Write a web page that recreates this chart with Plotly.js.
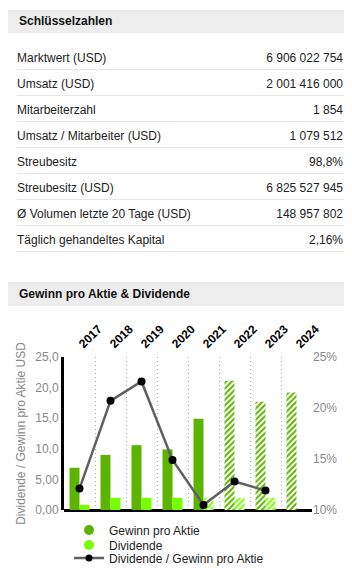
<!DOCTYPE html>
<html>
<head>
<meta charset="utf-8">
<script src="https://cdn.plot.ly/plotly-3.0.1.min.js"></script>
<style>
html,body{margin:0;padding:0;background:#fff;}
body{width:352px;height:568px;position:relative;overflow:hidden;font-family:"Liberation Sans",Arial,sans-serif;font-size:12px;color:#222;}
.hdr{position:absolute;left:8px;width:336px;height:23px;background:#ededed;font-weight:bold;line-height:23px;color:#111;}
.hdr span{position:absolute;left:11px;}
.lab{position:absolute;left:17px;height:16px;line-height:16px;}
.val{position:absolute;right:9px;height:16px;line-height:16px;text-align:right;}
.sep{position:absolute;left:17px;width:327px;height:1px;background:#e6e6e6;}
#chart{position:absolute;left:0;top:306px;width:352px;height:320px;}
</style>
</head>
<body>
<div class="hdr" style="top:10px"><span>Schlüsselzahlen</span></div>
<div id="table"></div>
<div class="hdr" style="top:282px;height:24px;line-height:24px"><span>Gewinn pro Aktie &amp; Dividende</span></div>
<div id="chart"></div>
<script>
// ---- Key figures ----
const tableLabels = ["Marktwert (USD)", "Umsatz (USD)", "Mitarbeiterzahl", "Umsatz / Mitarbeiter (USD)", "Streubesitz", "Streubesitz (USD)", "Ø Volumen letzte 20 Tage (USD)", "Täglich gehandeltes Kapital"];
const tableValues = ["6 906 022 754", "2 001 416 000", "1 854", "1 079 512", "98,8%", "6 825 527 945", "148 957 802", "2,16%"];

// ---- Chart data ----
const years = ["2017", "2018", "2019", "2020", "2021", "2022", "2023", "2024"];
const gewinn = [6.9, 9.0, 10.6, 9.9, 14.9, 21.1, 17.7, 19.2];
const dividende = [0.85, 2.0, 2.0, 2.0, 2.0, 2.0, 2.0, null];
const ausschuettung = [12.1, 20.7, 22.6, 14.9, 10.5, 12.8, 11.9, null];
const gewinnPattern = ["", "", "", "", "", "/", "/", "/"];
const dividendePattern = ["", "", "", "", "/", "/", "/", ""];
const leftTickVals = [0, 5, 10, 15, 20, 25];
const leftTickText = ["0,00", "5,00", "10,0", "15,0", "20,0", "25,0"];
const rightTickVals = [10, 15, 20, 25];
const rightTickText = ["10%", "15%", "20%", "25%"];

const tbl = document.getElementById('table');
tableLabels.forEach((l, i) => {
  const top = 50 + 26 * i;
  tbl.insertAdjacentHTML('beforeend',
    `<div class="lab" style="top:${top}px">${l}</div>` +
    `<div class="val" style="top:${top}px">${tableValues[i]}</div>` +
    `<div class="sep" style="top:${69 + 26 * i}px"></div>`);
});

const cG = '#5db400', cD = '#77ff00';
const fam = '"Liberation Sans", Arial, sans-serif';
const font = {family: fam, size: 12, color: '#222'};

const traces = [
  {type: 'bar', x: years, y: gewinn, name: 'Gewinn pro Aktie', showlegend: false,
   marker: {color: cG, line: {width: 0}, pattern: {shape: gewinnPattern, bgcolor: '#ffffff', fgcolor: cG, size: 4, solidity: 0.5}},
   hoverinfo: 'skip'},
  {type: 'bar', x: years, y: dividende, name: 'Dividende', showlegend: false,
   marker: {color: cD, line: {width: 0}, pattern: {shape: dividendePattern, bgcolor: '#ffffff', fgcolor: cD, size: 4, solidity: 0.5}},
   hoverinfo: 'skip'},
  {type: 'scatter', mode: 'lines+markers', x: years, y: ausschuettung, yaxis: 'y2', name: 'Dividende / Gewinn pro Aktie',
   line: {color: '#606060', width: 2.5}, marker: {color: '#000', size: 8}, showlegend: false, connectgaps: false},
  // legend entries
  {type: 'scatter', mode: 'markers', x: [null], y: [null], name: 'Gewinn pro Aktie', marker: {color: cG, size: 10, symbol: 'circle'}, legend: 'legend'},
  {type: 'scatter', mode: 'markers', x: [null], y: [null], name: 'Dividende', marker: {color: cD, size: 10, symbol: 'circle'}, legend: 'legend2'},
  {type: 'scatter', mode: 'lines+markers', x: [null], y: [null], name: 'Dividende / Gewinn pro Aktie', line: {color: '#606060', width: 2.5}, marker: {color: '#000', size: 7}, legend: 'legend3'}
];

const legBase = {orientation: 'v', xanchor: 'left', yanchor: 'middle', bgcolor: 'rgba(0,0,0,0)', borderwidth: 0, font: font, x: 5 / 248};

const layout = {
  width: 352, height: 320,
  margin: {l: 64, r: 40, t: 51, b: 116, pad: 0},
  paper_bgcolor: 'rgba(0,0,0,0)', plot_bgcolor: 'rgba(0,0,0,0)',
  font: font,
  separators: ', ',
  barmode: 'group', bargap: 0.355, bargroupgap: 0,
  xaxis: {type: 'category', categoryorder: 'array', categoryarray: years, side: 'top',
    tickangle: -45, tickfont: {family: fam, size: 12, color: '#000', weight: 'bold'}, ticklabelstandoff: 3,
    showline: false, ticks: '', tickson: 'boundaries', showgrid: true, gridcolor: '#b0b0b0', griddash: '1px,3px', gridwidth: 1,
    range: [-0.5, 7.5], fixedrange: true, automargin: false},
  yaxis: {range: [0, 25], tickvals: leftTickVals, ticktext: leftTickText, tickfont: {family: fam, size: 12, color: '#888'},
    showgrid: false, showline: true, linecolor: '#000', linewidth: 3, zeroline: true, zerolinecolor: '#000', zerolinewidth: 3,
    ticks: '', title: {text: 'Dividende / Gewinn pro Aktie USD', font: {family: fam, size: 12, color: '#888'}, standoff: 8}, fixedrange: true, automargin: false},
  yaxis2: {overlaying: 'y', side: 'right', range: [10, 25], tickvals: rightTickVals, ticktext: rightTickText,
    tickfont: {family: fam, size: 12, color: '#888'}, showgrid: false, zeroline: false, showline: false, ticks: '', fixedrange: true, automargin: false},
  legend: Object.assign({}, legBase, {y: -20 / 153}),
  legend2: Object.assign({}, legBase, {y: -35 / 153}),
  legend3: Object.assign({}, legBase, {y: -48 / 153}),
  showlegend: true
};

Plotly.newPlot('chart', traces, layout, {displayModeBar: false, staticPlot: true});
</script>
</body>
</html>
